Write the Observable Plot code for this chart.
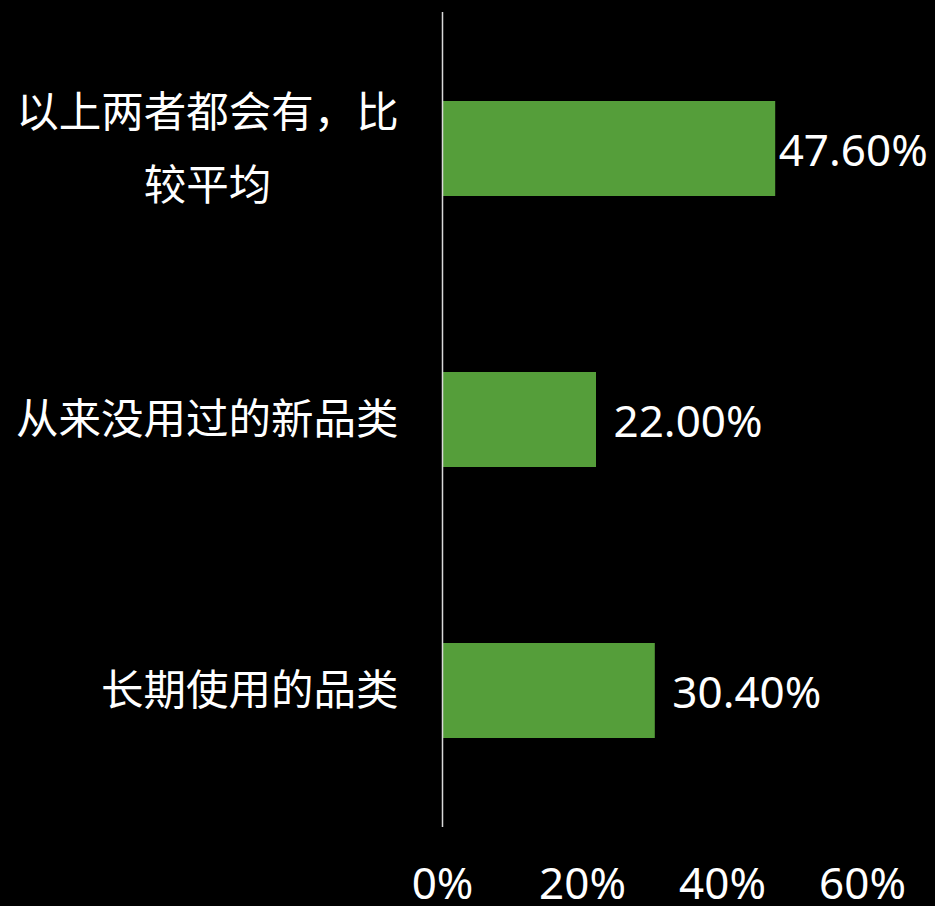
<!DOCTYPE html>
<html>
<head>
<meta charset="utf-8">
<script src="https://cdn.jsdelivr.net/npm/d3@7"></script>
<script src="https://cdn.jsdelivr.net/npm/@observablehq/plot@0.6"></script>
<style>
  html, body { margin: 0; padding: 0; background: #000; }
  #chart svg { display: block; }
</style>
</head>
<body>
<div id="chart"></div>
<script>
const categories = ["以上两者都会有，比较平均", "从来没用过的新品类", "长期使用的品类"];
const labelLines = ["以上两者都会有，比\n较平均", "从来没用过的新品类", "长期使用的品类"];
const values = [47.6, 22.0, 30.4];
const xTicks = [0, 20, 40, 60];

const data = categories.map((c, i) => ({category: c, label: labelLines[i], value: values[i]}));
const font = "'Noto Sans', 'Noto Sans CJK SC', sans-serif";

const chart = Plot.plot({
  width: 935,
  height: 906,
  marginLeft: 442,
  marginRight: 73,
  marginTop: 12,
  marginBottom: 79,
  style: {background: "#000", color: "#fff", fontFamily: font},
  x: {domain: [0, 60], ticks: xTicks, tickFormat: d => d + "%", label: null},
  y: {domain: categories, paddingInner: 0.65, paddingOuter: 0.325, label: null, axis: null},
  marks: [
    Plot.axisX({ticks: xTicks, tickFormat: d => d + "%", tickSize: 0, tickPadding: 40, fontSize: 44, fill: "#fff", label: null}),
    Plot.barX(data, {y: "category", x: "value", fill: "#559e3a"}),
    Plot.ruleX([0], {stroke: "#d9d9d9", strokeWidth: 1.5}),
    // wrapped first label: lines centred on each other
    Plot.text(data.filter((d, i) => i === 0), {y: "category", text: "label", frameAnchor: "left", dx: -235, dy: -9, textAnchor: "middle", fontSize: 42.5, lineHeight: 1.72, fill: "#fff"}),
    Plot.text(data.filter((d, i) => i > 0), {y: "category", text: "label", frameAnchor: "left", dx: -44, textAnchor: "end", fontSize: 42.5, fill: "#fff"}),
    Plot.text(data.filter((d, i) => i === 0), {y: "category", x: "value", text: d => d.value.toFixed(2) + "%", textAnchor: "start", dx: 3, dy: 3, fontSize: 44, fill: "#fff"}),
    Plot.text(data.filter((d, i) => i > 0), {y: "category", x: "value", text: d => d.value.toFixed(2) + "%", textAnchor: "start", dx: 17, dy: 3, fontSize: 44, fill: "#fff"})
  ]
});
document.getElementById("chart").append(chart);
</script>
</body>
</html>
